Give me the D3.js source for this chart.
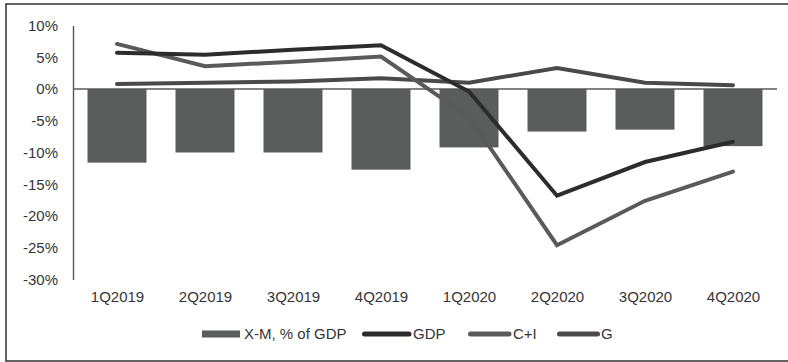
<!DOCTYPE html>
<html>
<head>
<meta charset="utf-8">
<script src="https://cdn.jsdelivr.net/npm/d3@7/dist/d3.min.js"></script>
<style>
  html, body { margin: 0; padding: 0; background: #fff; }
  svg { display: block; }
  text { font-family: "Liberation Sans", Arial, sans-serif; fill: #353535; }
</style>
</head>
<body>
<svg id="chart" width="788" height="362"></svg>
<script>
// Quarterly categories
const quarters = ["1Q2019", "2Q2019", "3Q2019", "4Q2019", "1Q2020", "2Q2020", "3Q2020", "4Q2020"];

// Net exports, % of GDP (bars)
const netExports = [-11.6, -10.0, -10.0, -12.7, -9.2, -6.7, -6.4, -9.0];

// Growth lines, %
const gdp = [5.7, 5.4, 6.2, 6.9, -0.4, -16.8, -11.5, -8.3];
const consInv = [7.1, 3.6, 4.3, 5.1, -4.4, -24.6, -17.6, -13.0];
const govt = [0.8, 1.0, 1.2, 1.7, 1.0, 3.3, 1.0, 0.6];

// Y-axis ticks
const yTicks = [10, 5, 0, -5, -10, -15, -20, -25, -30];

const svg = d3.select("#chart");

// Outer frame
svg.append("rect")
  .attr("x", 6).attr("y", 4)
  .attr("width", 800).attr("height", 357)
  .attr("fill", "none")
  .attr("stroke", "#3c3c3c")
  .attr("stroke-width", 1.6);

const margin = { left: 73, right: 11, top: 25.5, bottom: 83 };
const W = 788, H = 362;

const x = d3.scaleBand()
  .domain(quarters)
  .range([margin.left, W - margin.right])
  .paddingInner(0.33)
  .paddingOuter(0.165);

const xc = d3.scalePoint()
  .domain(quarters)
  .range([margin.left, W - margin.right])
  .padding(0.5);

const y = d3.scaleLinear()
  .domain([-30, 10])
  .range([H - margin.bottom + 0.5, margin.top]);

// Y axis labels
const yAxis = d3.axisLeft(y)
  .tickValues(yTicks)
  .tickFormat(d => d + "%")
  .tickSize(0)
  .tickPadding(15);

const gy = svg.append("g")
  .attr("transform", `translate(${margin.left},0)`)
  .call(yAxis);
gy.select(".domain").attr("stroke", "#555").attr("stroke-width", 1.4);
gy.selectAll("text")
  .attr("font-size", 15)
  .attr("fill", "#353535")
  .attr("font-family", "Liberation Sans, Arial, sans-serif");

// Bars
svg.append("g")
  .selectAll("rect")
  .data(netExports)
  .join("rect")
  .attr("x", (d, i) => x(quarters[i]))
  .attr("width", x.bandwidth())
  .attr("y", d => y(Math.max(0, d)))
  .attr("height", d => Math.abs(y(d) - y(0)))
  .attr("fill", "#5b5c5c");

// Zero line
svg.append("line")
  .attr("x1", margin.left).attr("x2", W - margin.right)
  .attr("y1", y(0)).attr("y2", y(0))
  .attr("stroke", "#5a5a5a")
  .attr("stroke-width", 1.5);

// X axis labels
const xAxis = d3.axisBottom(xc).tickSize(0).tickPadding(0);
const gx = svg.append("g")
  .attr("transform", `translate(0,${y(-30) + 12})`)
  .call(xAxis);
gx.select(".domain").remove();
gx.selectAll("text")
  .attr("font-size", 15)
  .attr("fill", "#353535")
  .attr("dy", "0.71em")
  .attr("font-family", "Liberation Sans, Arial, sans-serif");

// Lines
const series = [
  { name: "G", values: govt, color: "#4a4a4a" },
  { name: "C+I", values: consInv, color: "#5a5a5a" },
  { name: "GDP", values: gdp, color: "#2c2c2c" }
];

const line = d3.line()
  .x((d, i) => xc(quarters[i]))
  .y(d => y(d));

svg.append("g")
  .selectAll("path")
  .data(series)
  .join("path")
  .attr("d", s => line(s.values))
  .attr("fill", "none")
  .attr("stroke", s => s.color)
  .attr("stroke-width", 4)
  .attr("stroke-linejoin", "miter")
  .attr("stroke-linecap", "round");

// Legend
const legendY = 334;
const legend = svg.append("g");
legend.append("rect")
  .attr("x", 202).attr("y", legendY - 3.5)
  .attr("width", 38).attr("height", 7)
  .attr("fill", "#5b5c5c");
legend.append("text")
  .attr("x", 244).attr("y", legendY).attr("dy", "0.36em")
  .attr("font-size", 15).text("X-M, % of GDP");

const lineItems = [
  { name: "GDP", color: "#2c2c2c", x0: 364.5, x1: 409, tx: 413 },
  { name: "C+I", color: "#5a5a5a", x0: 470.5, x1: 509, tx: 513 },
  { name: "G", color: "#4a4a4a", x0: 559.5, x1: 597.5, tx: 601 }
];
lineItems.forEach(it => {
  legend.append("line")
    .attr("x1", it.x0).attr("x2", it.x1)
    .attr("y1", legendY).attr("y2", legendY)
    .attr("stroke", it.color)
    .attr("stroke-width", 5)
    .attr("stroke-linecap", "round");
  legend.append("text")
    .attr("x", it.tx).attr("y", legendY).attr("dy", "0.36em")
    .attr("font-size", 15).text(it.name);
});
</script>
</body>
</html>
